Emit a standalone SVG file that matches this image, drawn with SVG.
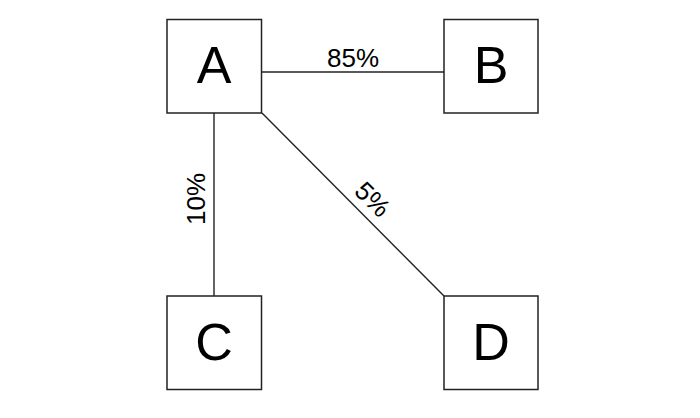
<svg xmlns="http://www.w3.org/2000/svg" width="700" height="418" viewBox="0 0 700 418">
<style>
.box{fill:#fff;stroke:#222;stroke-width:1.5}
.lbl{font-family:"Liberation Sans",Arial,sans-serif;font-size:52px;fill:#000;text-anchor:middle}
.edge{stroke:#222;stroke-width:1.4;fill:none}
.el{font-family:"Liberation Sans",Arial,sans-serif;font-size:26px;fill:#000;text-anchor:middle}
</style>
<rect width="700" height="418" fill="#fff"/>
<g id="connectors">
<line class="edge" x1="262" y1="72" x2="444" y2="72"/>
<line class="edge" x1="214" y1="113" x2="214" y2="296"/>
<line class="edge" x1="262" y1="113" x2="444" y2="296"/>
<text class="el" x="353" y="67">85%</text>
<text class="el" transform="translate(205,199) rotate(-90)" x="0" y="0">10%</text>
<text class="el" transform="translate(363.5,208.5) rotate(45)" x="0" y="-4">5%</text>
</g>
<g id="A"><rect class="box" x="167" y="19.5" width="94.5" height="93.5"/><text class="lbl" x="214" y="83">A</text></g>
<g id="B"><rect class="box" x="444" y="19.5" width="94" height="93.5"/><text class="lbl" x="491" y="83">B</text></g>
<g id="C"><rect class="box" x="167" y="296" width="94.5" height="93.5"/><text class="lbl" x="214" y="360">C</text></g>
<g id="D"><rect class="box" x="444" y="296" width="94" height="93.5"/><text class="lbl" x="491" y="360">D</text></g>
</svg>
